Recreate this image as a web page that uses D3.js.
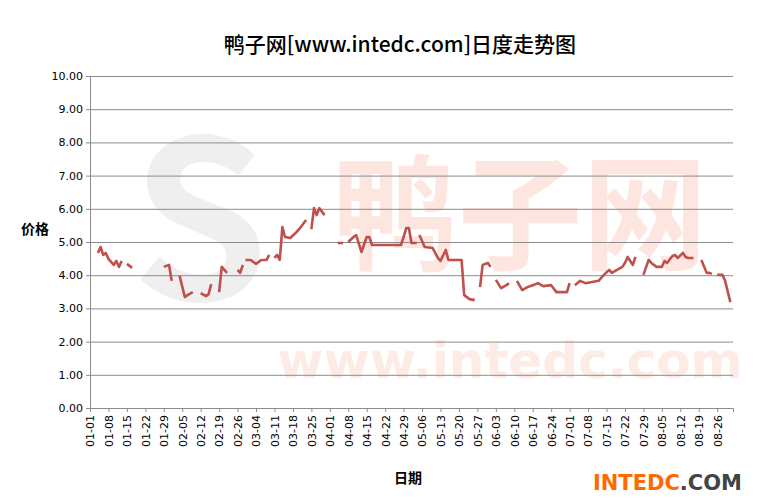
<!DOCTYPE html>
<html><head><meta charset="utf-8">
<script src="https://cdn.jsdelivr.net/npm/d3@7"></script>
<style>body{margin:0;background:#fff;font-family:"Noto Sans CJK SC","DejaVu Sans",sans-serif;}</style>
</head><body><div id="chart"></div>
<script>
// day offsets from 2012-01-01, null marks a gap in the line
const days = [3,4,5,6,7,9,10,11,12,null,14,16,null,28,30,31,null,34,36,37,39,null,42,44,45,46,null,49,50,51,52,null,56,57,58,null,59,61,63,65,67,68,null,70,71,72,73,74,76,78,80,82,null,84,85,86,87,89,null,
  94,96,null,98,100,101,103,105,106,107,118,119,120,121,122,124,null,125,127,130,132,133,135,136,141,142,143,144,146,null,148,149,151,152,null,154,156,158,159,null,
  162,164,166,168,170,172,175,177,181,182,null,184,186,188,191,193,195,197,198,200,202,203,204,206,207,null,210,212,213,215,217,218,219,221,222,223,225,226,227,229,null,232,234,235,236,null,238,240,241,243];
const prices = [4.67,4.85,4.61,4.67,4.49,4.31,4.43,4.25,4.43,null,4.34,4.22,null,4.25,4.31,3.83,null,3.98,3.34,3.40,3.49,null,3.46,3.37,3.43,3.73,null,3.49,4.25,4.16,4.07,null,4.16,4.07,4.31,null,4.46,4.46,4.34,4.46,4.46,4.61,null,4.52,4.61,4.46,5.45,5.15,5.12,5.27,5.45,5.66,null,5.39,6.02,5.81,6.02,5.81,null,
  4.97,4.97,null,5.0,5.15,5.21,4.70,5.15,5.15,4.91,4.91,5.15,5.42,5.42,4.97,4.97,null,5.21,4.85,4.82,4.52,4.43,4.76,4.46,4.46,3.40,3.34,3.28,3.25,null,3.64,4.31,4.37,4.25,null,3.86,3.61,3.70,3.76,null,
  3.83,3.55,3.64,3.70,3.76,3.67,3.70,3.49,3.49,3.76,null,3.70,3.83,3.76,3.80,3.83,4.01,4.16,4.07,4.16,4.25,4.37,4.55,4.31,4.55,null,4.01,4.46,4.37,4.25,4.25,4.43,4.37,4.58,4.61,4.52,4.67,4.55,4.52,4.52,null,4.46,4.07,4.07,4.04,null,4.01,4.01,3.83,3.19];
const yTicks = [0,1,2,3,4,5,6,7,8,9,10];
const xTickDays = d3.range(0, 239, 7);

const W = 763, H = 503;
const margin = {top: 76, right: 30, bottom: 95, left: 90};
const w = W - margin.left - margin.right, h = H - margin.top - margin.bottom;
const svg = d3.select("#chart").append("svg").attr("width", W).attr("height", H);

// faint watermarks
svg.append("text").attr("x", 520).attr("y", 260).attr("text-anchor", "middle")
  .attr("fill", "#fce6df").style("font-size", "125px").style("font-weight", "bold").text("鸭子网");
svg.append("text").attr("x", 510).attr("y", 378).attr("text-anchor", "middle")
  .attr("fill", "#fdebe5").style("font-size", "50px").style("font-weight", "bold").style("font-family", "DejaVu Sans").text("www.intedc.com");
svg.append("text").attr("x", 200).attr("y", 300).attr("text-anchor", "middle")
  .attr("fill", "#efefef").style("font-size", "220px").style("font-weight", "bold").text("S");

const g = svg.append("g").attr("transform", `translate(${margin.left},${margin.top})`);
const x = d3.scaleLinear().domain([0, 244]).range([0, w]);
const y = d3.scaleLinear().domain([0, 10]).range([h, 0]);
const start = new Date(2012, 0, 1);
const fmt = d3.timeFormat("%m-%d");

g.append("g").call(d3.axisLeft(y).tickValues(yTicks).tickSize(-w).tickFormat(""))
  .call(s => s.select(".domain").remove())
  .selectAll("line").attr("stroke", "#8c8c8c");

g.append("g").call(d3.axisLeft(y).tickValues(yTicks).tickSize(4).tickFormat(d3.format(".2f")))
  .call(s => s.select(".domain").attr("stroke", "#8c8c8c"))
  .call(s => s.selectAll("line").attr("stroke", "#8c8c8c"))
  .selectAll("text").style("font-size", "11px").style("font-family", "DejaVu Sans").attr("fill", "#000");

g.append("g").attr("transform", `translate(0,${h})`)
  .call(d3.axisBottom(x).tickValues(xTickDays).tickSize(4).tickFormat(d => fmt(d3.timeDay.offset(start, d))))
  .call(s => s.select(".domain").attr("stroke", "#8c8c8c"))
  .call(s => s.selectAll("line").attr("stroke", "#8c8c8c"))
  .selectAll("text").attr("transform", "rotate(-90)").attr("x", -7).attr("y", 0).attr("dy", "0.35em")
  .style("text-anchor", "end").style("font-size", "11px").style("font-family", "DejaVu Sans").attr("fill", "#000");

const pts = days.map((d, i) => [d, prices[i]]);
g.append("path").datum(pts)
  .attr("fill", "none").attr("stroke", "#c0504d").attr("stroke-width", 2.6).attr("stroke-linejoin", "round")
  .attr("d", d3.line().defined(d => d[0] !== null).x(d => x(d[0])).y(d => y(d[1])));

svg.append("text").attr("x", 400).attr("y", 52).attr("text-anchor", "middle")
  .style("font-size", "21px").style("font-weight", "500").text("鸭子网[www.intedc.com]日度走势图");
svg.append("text").attr("x", 35).attr("y", 234).attr("text-anchor", "middle")
  .style("font-size", "14px").style("font-weight", "bold").text("价格");
svg.append("text").attr("x", 408).attr("y", 483).attr("text-anchor", "middle")
  .style("font-size", "14px").style("font-weight", "bold").text("日期");

const logo = svg.append("text").attr("x", 742).attr("y", 490).attr("text-anchor", "end")
  .style("font-size", "21px").style("font-weight", "bold").style("font-family", "DejaVu Sans");
logo.append("tspan").attr("fill", "#ff6a00").text("INTEDC");
logo.append("tspan").attr("fill", "#444").text(".COM");
</script></body></html>
